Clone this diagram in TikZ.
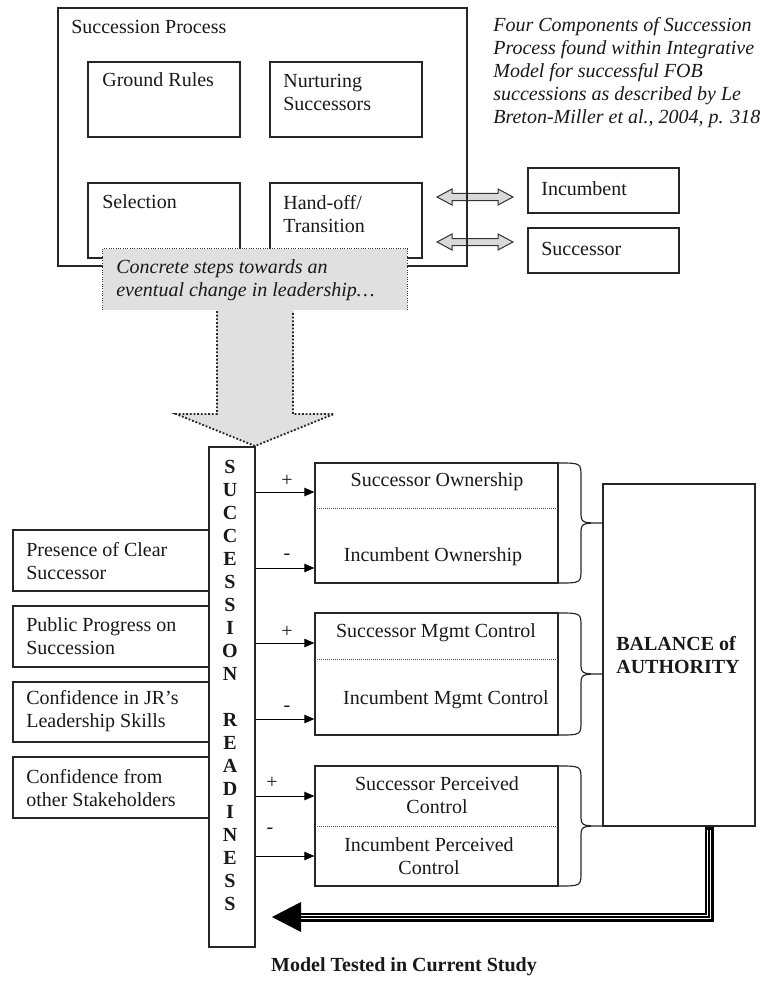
\documentclass[tikz,border=0pt]{standalone}
\usepackage{fontspec}
\setmainfont{Liberation Serif}
\usetikzlibrary{arrows.meta,fit}
\newcommand\mybrace[3]{% top, middle(tip), bottom
  \draw[bline] (558,#1) .. controls (581,#1) .. (581,{#1+14}) -- (581,{#2-12})
    .. controls (581,#2) .. (603,#2) .. controls (581,#2) .. (581,{#2+12})
    -- (581,{#3-14}) .. controls (581,#3) .. (558,#3);}
\newcommand\dblarrow[1]{%
  \draw[line width=0.6pt, draw=black!80, fill=black!15, line join=miter]
    (437,#1) -- (452,{#1-8}) -- (452,{#1-3.5}) -- (498,{#1-3.5}) -- (498,{#1-8})
    -- (513,#1) -- (498,{#1+8}) -- (498,{#1+3.5}) -- (452,{#1+3.5}) -- (452,{#1+8}) -- cycle;}
\begin{document}
\begin{tikzpicture}[x=0.6pt,y=-0.6pt,
  every node/.style={font=\fontsize{12}{13.8}\selectfont, inner sep=0pt, text=black!90},
  bfont/.style={font=\fontsize{12}{13.8}\selectfont\bfseries},
  box/.style={draw=black!85, line width=0.7pt, fit={#1}, inner sep=0pt},
  bline/.style={draw=black!85, line width=0.7pt},
  arr/.style={draw=black, line width=0.6pt, -{Triangle[length=6pt,width=5pt]}},
  divider/.style={draw=black!70, line width=0.5pt, dash pattern=on 0.6pt off 0.6pt}]
\useasboundingbox (0,0) rectangle (765,992);

% ---------- top part ----------
\dblarrow{197}
\dblarrow{242}
\node[box={(58,8)(467,266)}] (outer) {};
\node[anchor=west] (touter) at (71,27) {Succession Process};
\node[box={(88,62)(240,137)}] (gr) {};
\node[anchor=west] (tgr) at (102,80) {Ground Rules};
\node[box={(270,62)(422,137)}] (nur) {};
\node[anchor=west, align=left] (tnur) at (283,92.5) {Nurturing\\Successors};
\node[box={(88,183)(240,258)}] (sel) {};
\node[anchor=west] (tsel) at (102,202) {Selection};
\node[box={(270,183)(422,258)}] (hand) {};
\node[anchor=west, align=left] (thand) at (283,214) {Hand-off/\\Transition};
\node[box={(528,168)(679,213)}] (inc) {};
\node[anchor=west] (tinc) at (541,189) {Incumbent};
\node[box={(528,228)(679,273)}] (suc) {};
\node[anchor=west] (tsuc) at (541,249) {Successor};
\node[anchor=west, align=left, font=\fontsize{12}{13.8}\selectfont\itshape] (note) at (493,72.5)
  {Four Components of Succession\\Process found within Integrative\\Model for successful FOB\\successions as described by Le\\Breton-Miller et al., 2004, p. 318};

% gray box and big arrow
\node[fill=black!12, fit={(103,249)(407,310)}] (gb) {};
\fill[black!12] (217,309) -- (217,414) -- (176,414) -- (255,446) -- (334,414) -- (293,414) -- (293,309) -- cycle;
\draw[black!80, line width=0.5pt, dash pattern=on 0.6pt off 0.8pt] (gb.south west) -- (gb.north west) -- (gb.north east) -- (gb.south east);
\draw[black!85, line width=1.1pt, dash pattern=on 1.1pt off 1.1pt]
  (217,311) -- (217,414) -- (176,414) -- (255,446) -- (334,414) -- (293,414) -- (293,311);
\node[anchor=west, align=left, font=\fontsize{12}{13.8}\selectfont\itshape] (tgb) at (116,280.5)
  {Concrete steps towards an\\eventual change in leadership\dots};

% ---------- bottom part ----------
\node[box={(209,447)(255,947)}] (rd) {};
\node[bfont, align=center] (trd) at (230,685.5)
  {S\\U\\C\\C\\E\\S\\S\\I\\O\\N\\ \\R\\E\\A\\D\\I\\N\\E\\S\\S};

\node[box={(13,530)(209,591)}] (l1) {};
\node[anchor=west, align=left] (tl1) at (26,561.5) {Presence of Clear\\Successor};
\node[box={(13,606)(209,667)}] (l2) {};
\node[anchor=west, align=left] (tl2) at (26,636.5) {Public Progress on\\Succession};
\node[box={(13,682)(209,742)}] (l3) {};
\node[anchor=west, align=left] (tl3) at (26,711.5) {Confidence in JR’s\\Leadership Skills};
\node[box={(13,757)(209,818)}] (l4) {};
\node[anchor=west, align=left] (tl4) at (26,788.5) {Confidence from\\other Stakeholders};

\node[box={(315,463)(558,583)}] (own) {};
\draw[divider] (315,508) -- (558,508);
\node (town1) at (437,482) {Successor Ownership};
\node (town2) at (433,557) {Incumbent Ownership};

\node[box={(315,613)(558,735)}] (mg) {};
\draw[divider] (315,659) -- (558,659);
\node (tmg1) at (436,633) {Successor Mgmt Control};
\node (tmg2) at (446,700) {Incumbent Mgmt Control};

\node[box={(315,766)(558,886)}] (pc) {};
\draw[divider] (315,826) -- (558,826);
\node[align=center] (tpc1) at (437,795.5) {Successor Perceived\\Control};
\node[align=center] (tpc2) at (429,856.5) {Incumbent Perceived\\Control};

\node[box={(603,484)(755,826)}] (bal) {};
\node[bfont, anchor=west, align=left] (tbal) at (616,655) {BALANCE of\\AUTHORITY};

% arrows from readiness
\draw[arr] (rd.east |- 0,492) -- (own.west |- 0,492);
\draw[arr] (rd.east |- 0,568) -- (own.west |- 0,568);
\draw[arr] (rd.east |- 0,643) -- (mg.west |- 0,643);
\draw[arr] (rd.east |- 0,719) -- (mg.west |- 0,719);
\draw[arr] (rd.east |- 0,796) -- (pc.west |- 0,796);
\draw[arr] (rd.east |- 0,856) -- (pc.west |- 0,856);
\node (s1) at (287,481) {+};
\node (s2) at (287,557) {-};
\node (s3) at (287,632) {+};
\node (s4) at (287,709) {-};
\node (s5) at (272,783) {+};
\node (s6) at (270,831) {-};

% braces
\mybrace{463}{523}{583}
\mybrace{613}{674}{735}
\mybrace{766}{826}{886}

% triple feedback line
\draw[black, line width=5.4pt, line join=miter] (bal.south -| 709,0) |- (300,917);
\draw[white, line width=2.8pt, line join=miter] ([yshift=-2pt]bal.south -| 709,0) |- (298,917);
\draw[black, line width=0.9pt, line join=miter] ([yshift=-2pt]bal.south -| 709,0) |- (298,917);
\fill[black] (272,917) -- (301,902) -- (301,932) -- cycle;

\node[bfont] (title) at (404,967) {Model Tested in Current Study};
\end{tikzpicture}
\end{document}
